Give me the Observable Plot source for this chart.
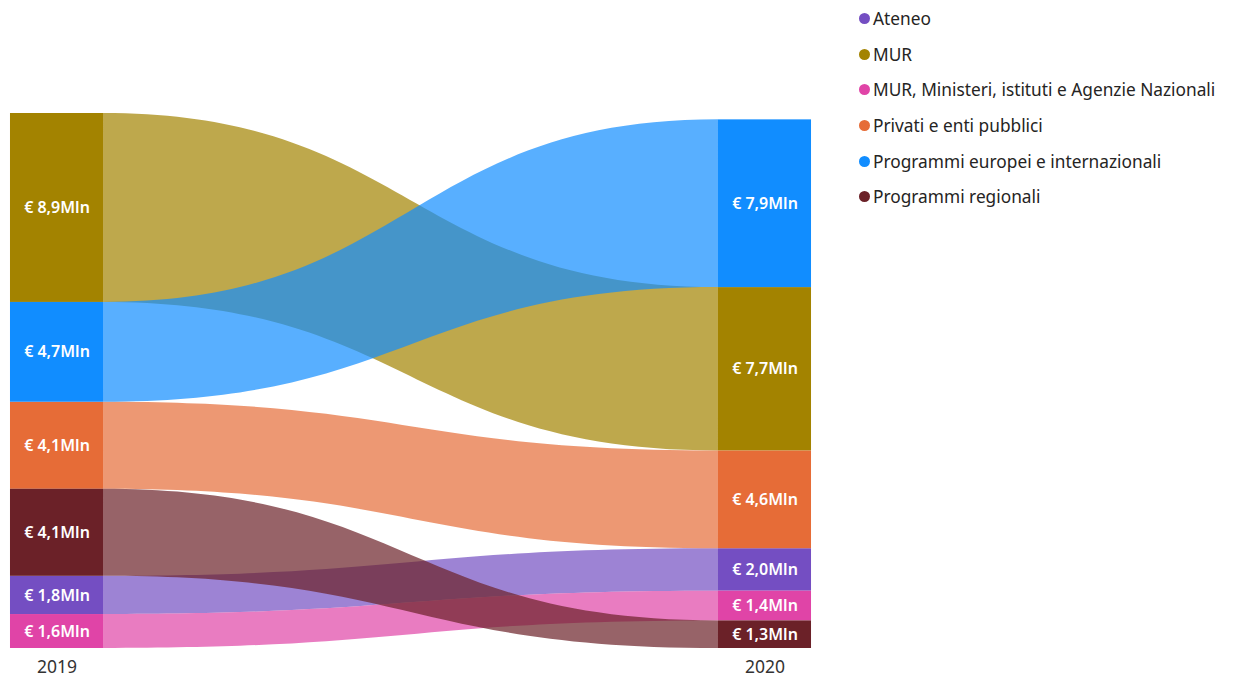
<!DOCTYPE html>
<html><head><meta charset="utf-8">
<script src="https://cdn.jsdelivr.net/npm/d3@7"></script>
<script src="https://cdn.jsdelivr.net/npm/@observablehq/plot@0.6"></script>
<style>
body{margin:0;background:#fff;font-family:"Noto Sans","Open Sans",sans-serif;}
#wrap{position:relative;width:1235px;height:679px;}
#chart{position:absolute;left:0;top:0;}
#legend{position:absolute;left:859px;top:1px;}
.item{display:flex;align-items:center;height:35.6px;font-size:17.3px;color:#252423;white-space:nowrap;}
.dot{width:11px;height:11px;border-radius:50%;margin-right:3px;}
</style></head>
<body>
<div id="wrap"><div id="chart"></div><div id="legend"></div></div>
<script>
const categories = ["Ateneo","MUR","MUR, Ministeri, istituti e Agenzie Nazionali","Privati e enti pubblici","Programmi europei e internazionali","Programmi regionali"];
const colors = ["#744EC2","#A38300","#E044A7","#E66C37","#118DFF","#6B2128"];
const years = ["2019","2020"];
const values2019 = [1.8, 8.9, 1.6, 4.1, 4.7, 4.1];
const values2020 = [2.0, 7.7, 1.4, 4.6, 7.9, 1.3];

const hw = 0.0657;
function stack(vals, yi) {
  const idx = categories.map((c, i) => i).sort((a, b) => vals[b] - vals[a] || a - b);
  let top = d3.sum(vals);
  const out = {};
  for (const i of idx) {
    out[i] = {cat: categories[i], year: years[yi], yi, v: vals[i], y2: top, y1: top - vals[i]};
    top -= vals[i];
  }
  return categories.map((c, i) => out[i]);
}
const s19 = stack(values2019, 0), s20 = stack(values2020, 1);
const bars = [...s19, ...s20];
const ribbons = [];
categories.forEach((c, i) => {
  ribbons.push({cat: c, x: 0 + hw, y1: s19[i].y1, y2: s19[i].y2});
  ribbons.push({cat: c, x: 1 - hw, y1: s20[i].y1, y2: s20[i].y2});
});
const maxTotal = Math.max(d3.sum(values2019), d3.sum(values2020));
const fmt = v => "€ " + v.toFixed(1).replace(".", ",") + "Mln";

const chart = Plot.plot({
  width: 830, height: 679,
  style: {fontFamily: "'Noto Sans','Open Sans',sans-serif", background: "transparent"},
  x: {domain: [0, 1], range: [56.5, 764.5], axis: null},
  y: {domain: [0, maxTotal], range: [648, 113], axis: null},
  color: {domain: categories, range: colors},
  marks: [
    Plot.areaY(ribbons, {x: "x", y1: "y1", y2: "y2", z: "cat", fill: "cat", fillOpacity: 0.7, curve: "bump-x"}),
    Plot.rect(bars, {x1: d => d.yi - hw, x2: d => d.yi + hw, y1: "y1", y2: "y2", fill: "cat"}),
    Plot.text(bars, {x: "yi", y: d => (d.y1 + d.y2) / 2, text: d => fmt(d.v), fill: "white", fontSize: 16, fontWeight: 600}),
    Plot.text(years, {x: (d, i) => i, y: () => 0, dy: 19, text: d => d, fill: "#333", fontSize: 17.5})
  ]
});
document.getElementById("chart").appendChild(chart);

const leg = document.getElementById("legend");
categories.forEach((c, i) => {
  const it = document.createElement("div");
  it.className = "item";
  const d = document.createElement("span");
  d.className = "dot"; d.style.background = colors[i];
  const t = document.createElement("span");
  t.textContent = c;
  it.appendChild(d); it.appendChild(t);
  leg.appendChild(it);
});
</script>
</body></html>
